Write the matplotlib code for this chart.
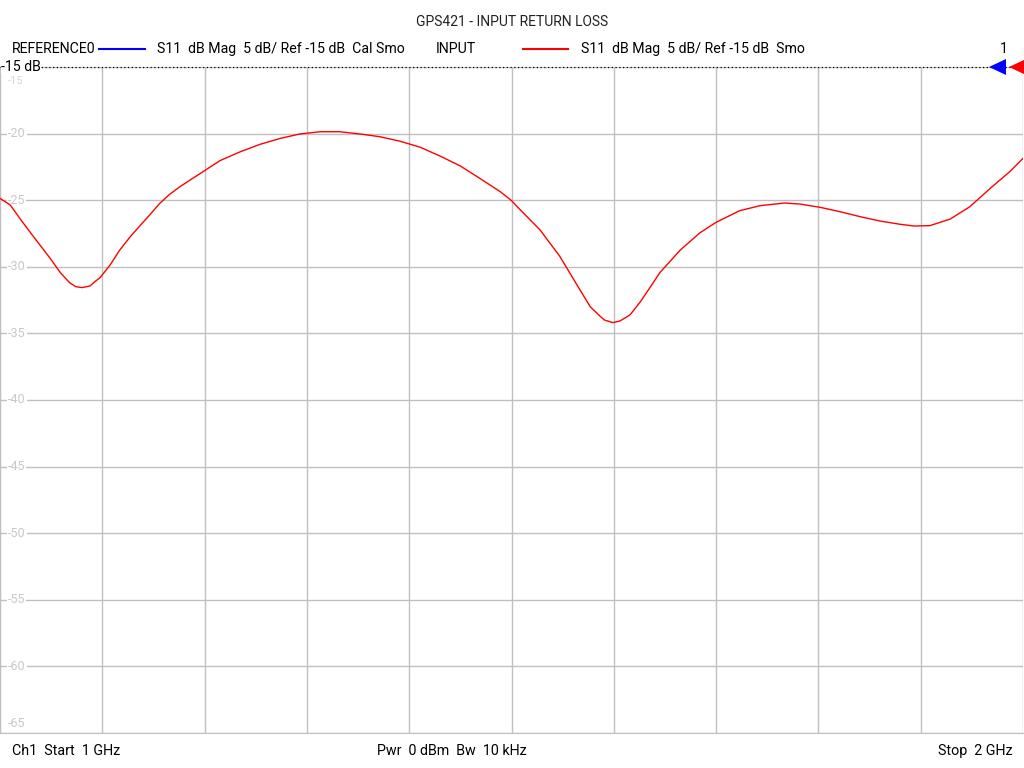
import matplotlib
matplotlib.use("Agg")
import matplotlib.pyplot as plt
from matplotlib.patches import Polygon

# trace data (S11, dB)
freq_ghz = [1.000, 1.010, 1.020, 1.029, 1.039, 1.049, 1.059, 1.068, 1.074, 1.080,
            1.088, 1.093, 1.098, 1.108, 1.117, 1.127, 1.137, 1.147, 1.156, 1.166,
            1.176, 1.196, 1.215, 1.235, 1.254, 1.274, 1.293, 1.313, 1.332, 1.352,
            1.371, 1.391, 1.411, 1.430, 1.450, 1.469, 1.489, 1.500, 1.508, 1.528,
            1.547, 1.567, 1.577, 1.587, 1.591, 1.599, 1.606, 1.616, 1.626, 1.635,
            1.645, 1.665, 1.684, 1.700, 1.723, 1.743, 1.767, 1.782, 1.802, 1.821,
            1.841, 1.860, 1.880, 1.894, 1.909, 1.929, 1.948, 1.968, 1.987, 2.000]
s11_db = [-24.86, -25.36, -26.43, -27.36, -28.36, -29.36, -30.44, -31.19, -31.49, -31.56,
          -31.44, -31.10, -30.80, -29.82, -28.75, -27.77, -26.90, -26.05, -25.25, -24.55,
          -23.98, -22.98, -22.03, -21.36, -20.81, -20.36, -20.03, -19.86, -19.86, -20.03,
          -20.23, -20.57, -21.03, -21.68, -22.43, -23.36, -24.36, -25.03, -25.68, -27.24,
          -29.19, -31.74, -33.00, -33.74, -34.00, -34.19, -34.07, -33.60, -32.62, -31.60,
          -30.44, -28.74, -27.46, -26.66, -25.79, -25.41, -25.21, -25.29, -25.54, -25.86,
          -26.24, -26.56, -26.81, -26.94, -26.91, -26.41, -25.49, -24.11, -22.86, -21.86]

y_ticks = [-15, -20, -25, -30, -35, -40, -45, -50, -55, -60, -65]
x_ticks = [1.0, 1.1, 1.2, 1.3, 1.4, 1.5, 1.6, 1.7, 1.8, 1.9, 2.0]
ref_level = -15

title = "GPS421 - INPUT RETURN LOSS"
legend1_name = "REFERENCE0"
legend1_text = "S11  dB Mag  5 dB/ Ref -15 dB  Cal Smo"
legend2_name = "INPUT"
legend2_text = "S11  dB Mag  5 dB/ Ref -15 dB  Smo"
footer_left = "Ch1  Start  1 GHz"
footer_mid = "Pwr  0 dBm  Bw  10 kHz"
footer_right = "Stop  2 GHz"

plt.rcParams['font.family'] = ['Roboto', 'DejaVu Sans']

W, H = 1024, 768
fig = plt.figure(figsize=(W / 100, H / 100), dpi=100)
fig.patch.set_facecolor('white')

# axes box in pixels: x 0..1023, y 67..733
ax = fig.add_axes([0 / W, 1 - 733 / H, 1023 / W, (733 - 67) / H])
ax.set_xlim(1.0, 2.0)
ax.set_ylim(-65, -15)
ax.set_xticks(x_ticks)
ax.set_yticks(y_ticks)
ax.grid(True, color='#c0c0c0', linewidth=1)
ax.tick_params(length=0, labelleft=False, labelbottom=False)
for side in ['top', 'right']:
    ax.spines[side].set_visible(False)
for side in ['left', 'bottom']:
    ax.spines[side].set_color('#c0c0c0')

# trace
ax.plot(freq_ghz, s11_db, color='#ff0000', linewidth=1.0, zorder=3)

# reference line
ax.axhline(ref_level, color='black', linestyle=(0, (1, 2)), linewidth=0.9, zorder=4, clip_on=False)

# grey scale labels inside the plot
ytr = ax.get_yaxis_transform()
for v in y_ticks[1:]:
    va = 'bottom' if v == -65 else 'center'
    yy = v + 0.2 if v == -65 else v
    ax.text(0.008, yy, str(v), transform=ytr, ha='left', va=va, fontsize=9,
            color='#c8c8c8', zorder=2,
            bbox=dict(facecolor='white', edgecolor='none', pad=0.5))
ax.text(0.008, -15.7, "-15", transform=ytr, ha='left', va='top', fontsize=8,
        color='#d8d8d8', zorder=2)

# reference label
fig.text(1 / W, 1 - 67 / H, "-15 dB", ha='left', va='center', fontsize=10.2, color='black',
         bbox=dict(facecolor='white', edgecolor='none', pad=0.2), zorder=5)

# title
fig.text(512 / W, 1 - 22 / H, title, ha='center', va='center', fontsize=10, color='#222222')

# legend row
ly = 1 - 49 / H
fig.text(12 / W, ly, legend1_name, ha='left', va='center', fontsize=10.2, color='black')
fig.add_artist(plt.Line2D([99 / W, 145 / W], [ly, ly], color='#0000ff', linewidth=1.5))
fig.text(157 / W, ly, legend1_text, ha='left', va='center', fontsize=10.2, color='black')
fig.text(436 / W, ly, legend2_name, ha='left', va='center', fontsize=10.2, color='black')
fig.add_artist(plt.Line2D([523 / W, 568 / W], [ly, ly], color='#ff0000', linewidth=1.5))
fig.text(581 / W, ly, legend2_text, ha='left', va='center', fontsize=10.2, color='black')
fig.text(1004 / W, ly, "1", ha='center', va='center', fontsize=10.2, color='black')

# reference markers on the right
def px(x, y):
    return (x / W, 1 - y / H)

fig.add_artist(Polygon([px(989, 67), px(1006, 59), px(1006, 75)], closed=True,
                       facecolor='#0000ff', edgecolor='none', transform=fig.transFigure))
fig.add_artist(Polygon([px(1009, 67), px(1026, 59), px(1026, 75)], closed=True,
                       facecolor='#ff0000', edgecolor='none', transform=fig.transFigure))

# footer
fy = 1 - 751 / H
fig.text(12 / W, fy, footer_left, ha='left', va='center', fontsize=10.3, color='black')
fig.text(452 / W, fy, footer_mid, ha='center', va='center', fontsize=10.3, color='black')
fig.text(1013 / W, fy, footer_right, ha='right', va='center', fontsize=10.3, color='black')

fig.savefig("out.png", dpi=100, facecolor='white')
